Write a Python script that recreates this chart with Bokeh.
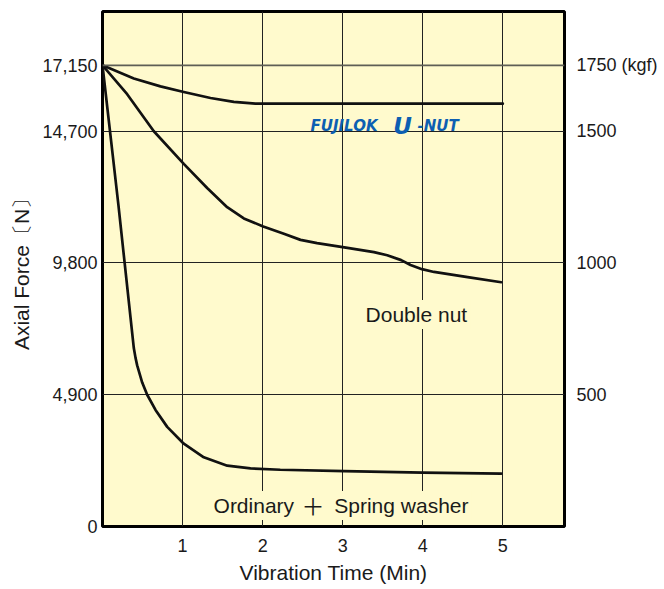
from bokeh.plotting import figure
from bokeh.models import Range1d, LinearAxis, FixedTicker, NumeralTickFormatter, Label, Span
from bokeh.embed import file_html
from bokeh.resources import INLINE

# ---- data ----
unut_time = [0, 0.391, 0.724, 1.015, 1.349, 1.64, 1.91, 2.5, 3.0, 4.0, 5.0]
unut_force = [17150, 16660, 16369, 16159, 15935, 15795, 15725, 15725, 15725, 15725, 15725]

double_time = [0, 0.308, 0.641, 1.015, 1.307, 1.557, 1.765, 2.007, 2.265, 2.473, 2.68,
               3.02, 3.39, 3.556, 3.73, 3.847, 3.99, 4.14, 4.56, 4.98]
double_force = [17150, 16076, 14700, 13484, 12590, 11875, 11457, 11160, 10885, 10660, 10540,
                10383, 10204, 10086, 9907, 9723, 9570, 9467, 9276, 9084]

ordinary_time = [0, 0.2, 0.391, 0.412, 0.433, 0.496, 0.558, 0.662, 0.808, 1.015, 1.265,
                 1.558, 1.849, 2.22, 3.02, 4.0, 4.98]
ordinary_force = [17150, 11921, 6636, 6280, 5992, 5352, 4900, 4335, 3705, 3079, 2574,
                  2262, 2160, 2111, 2063, 2000, 1964]

x_ticks = [1, 2, 3, 4, 5]
n_ticks = [0, 4900, 9800, 14700, 17150]
kgf_ticks = [500, 1000, 1500, 1750]
kgf_per_n = 1 / 9.8

BG = "#fffacd"
INK = "#1a1a1a"
FONT = "Liberation Sans"

y_max = 19153
p = figure(width=664, height=589, output_backend="svg", toolbar_location=None,
           x_range=Range1d(0, 5.77), y_range=Range1d(0, y_max),
           min_border_left=102, min_border_right=100, min_border_top=11, min_border_bottom=63)
p.title.visible = False
p.background_fill_color = BG
p.border_fill_color = "white"
p.outline_line_color = "black"
p.outline_line_width = 3

# axes
p.xaxis.ticker = FixedTicker(ticks=x_ticks)
p.yaxis.ticker = FixedTicker(ticks=n_ticks)
p.yaxis.formatter = NumeralTickFormatter(format="0,0")
for ax in [p.xaxis[0], p.yaxis[0]]:
    ax.axis_line_color = None
    ax.major_tick_line_color = None
    ax.minor_tick_line_color = None
    ax.major_tick_out = 0
    ax.major_tick_in = 0
    ax.major_label_text_font = FONT
    ax.major_label_text_font_size = "18px"
    ax.major_label_text_color = INK
    ax.axis_label_text_font = FONT
    ax.axis_label_text_font_size = "21px"
    ax.axis_label_text_font_style = "normal"
    ax.axis_label_text_color = INK
p.xaxis.axis_label = "Vibration Time (Min)"
p.xaxis.major_label_standoff = 12
p.xaxis.axis_label_standoff = 6
p.yaxis.axis_label = "Axial Force〔N〕"
p.yaxis.major_label_standoff = 5
p.yaxis.axis_label_standoff = 6

p.extra_y_ranges = {"kgf": Range1d(0, y_max * kgf_per_n)}
ax_r = LinearAxis(y_range_name="kgf", ticker=FixedTicker(ticks=kgf_ticks),
                  major_label_overrides={1750: "1750 (kgf)"})
ax_r.axis_line_color = None
ax_r.major_tick_line_color = None
ax_r.minor_tick_line_color = None
ax_r.major_tick_out = 0
ax_r.major_tick_in = 0
ax_r.major_label_standoff = 12
ax_r.major_label_text_font = FONT
ax_r.major_label_text_font_size = "18px"
ax_r.major_label_text_color = INK
p.add_layout(ax_r, "right")

# grid
p.xgrid.ticker = FixedTicker(ticks=x_ticks)
p.ygrid.ticker = FixedTicker(ticks=n_ticks[1:-1])
p.grid.grid_line_color = "#222222"
p.grid.grid_line_width = 1
p.grid.grid_line_alpha = 1
p.add_layout(Span(location=n_ticks[-1], dimension="width", line_color="#5e5e55", line_width=1.6))

# curves
for xs, ys in [(unut_time, unut_force), (double_time, double_force), (ordinary_time, ordinary_force)]:
    p.line(xs, ys, line_color="#111111", line_width=2.7, line_join="round", line_cap="round")

# labels
p.add_layout(Label(x=3.92, y=7884, text="Double nut", text_align="center", text_baseline="middle",
                   text_font=FONT, text_font_size="21px", text_color=INK,
                   background_fill_color=BG, padding=3))
p.add_layout(Label(x=2.43, y=781, text="Ordinary", text_align="right", text_baseline="middle",
                   text_font=FONT, text_font_size="21px", text_color=INK,
                   background_fill_color=BG, padding=3))
p.add_layout(Label(x=2.63, y=781, text="＋", text_align="center", text_baseline="middle",
                   text_font="Noto Sans CJK JP", text_font_size="23px", text_color=INK))
p.add_layout(Label(x=2.857, y=781, text="Spring washer", text_align="left", text_baseline="middle",
                   text_font=FONT, text_font_size="21px", text_color=INK,
                   background_fill_color=BG, padding=3))

BLUE = "#0d5fb2"
p.add_layout(Label(x=2.598, y=14913, text="FUJILOK", text_align="left", text_baseline="alphabetic",
                   text_font="DejaVu Sans", text_font_style="bold italic", text_font_size="15px",
                   text_color=BLUE))
p.add_layout(Label(x=3.63, y=14913, text="U", text_align="left", text_baseline="alphabetic",
                   text_font="DejaVu Sans", text_font_style="bold italic", text_font_size="23px",
                   text_color=BLUE))
p.add_layout(Label(x=3.935, y=14913, text="-NUT", text_align="left", text_baseline="alphabetic",
                   text_font="DejaVu Sans", text_font_style="bold italic", text_font_size="15px",
                   text_color=BLUE))

open("out.html", "w").write(file_html(p, INLINE))
